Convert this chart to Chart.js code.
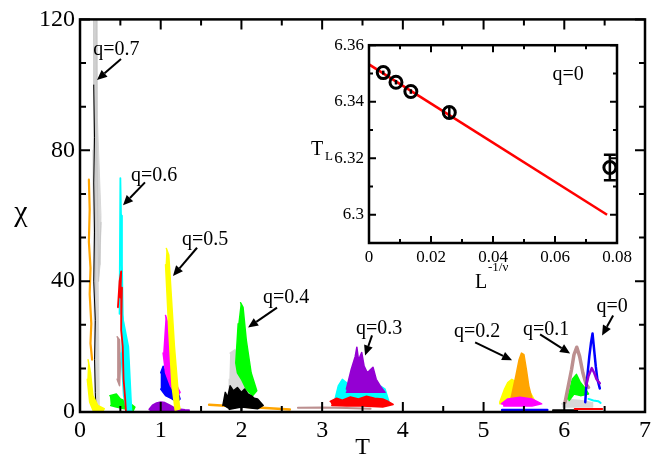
<!DOCTYPE html>
<html><head><meta charset="utf-8">
<script src="https://cdn.jsdelivr.net/npm/chart.js@4.4.1/dist/chart.umd.min.js"></script>
<style>
html,body{margin:0;padding:0;background:#fff;}
#wrap{position:relative;width:662px;height:464px;overflow:hidden;}
#main{position:absolute;left:0;top:0;}
#inset{position:absolute;left:300px;top:30px;}
</style></head><body>
<div id="wrap">
<canvas id="main" width="662" height="464"></canvas>
<canvas id="inset" width="350" height="270"></canvas>
</div>
<script>
// ================= MAIN PLOT DATA (T, chi) =================
// outlines (filled) and strands
// q = 0.7
const q07_gray_T     = [0.165,0.205,0.215,0.26,0.25,0.225,0.24,0.19,0.17,0.16];
const q07_gray_chi   = [125,125,90,60,45,40,0,0,40,80];
const q07_grayS_T    = [0.17,0.18,0.19,0.20,0.21,0.23,0.26];
const q07_grayS_chi  = [125,60,0,125,80,40,58];
const q07_orange_T   = [0.11,0.12,0.11,0.13,0.12,0.14,0.13,0.15];
const q07_orange_chi = [71,62,52,44,36,27,21,16];
const q07_black_T    = [0.17,0.18,0.17,0.18,0.17,0.19,0.18,0.19,0.20];
const q07_black_chi  = [100,84,70,55,40,28,16,6,0];
const q07_yellow_T   = [0.10,0.13,0.16,0.22,0.30,0.28,0.17,0.12,0.09];
const q07_yellow_chi = [16,12,5,2,1,0,0,3,10];
// q = 0.6
const q06_green_T    = [0.37,0.45,0.50,0.60,0.68,0.66,0.55,0.45,0.38];
const q06_green_chi  = [5,5.5,4,3,1.5,0.5,1,1.5,2];
const q06_brown_T    = [0.46,0.49,0.50,0.49,0.46];
const q06_brown_chi  = [23,22,14,8,10];
const q06_cyan_T     = [0.52,0.56,0.60,0.62,0.64,0.58,0.54,0.51];
const q06_cyan_chi   = [30,25,20,10,0,0,5,18];
const q06_cyanS_T    = [0.49,0.50,0.53,0.51,0.52,0.54];
const q06_cyanS_chi  = [30,71.5,30,60,35,25];
const q06_red_T      = [0.47,0.49,0.51,0.50,0.52,0.51,0.53,0.54,0.56,0.57];
const q06_red_chi    = [32,40,43,35,38,25,20,10,4,0];
// q = 0.5
const q05_purple_T    = [0.86,0.90,0.95,1.00,1.05,1.10,1.15,1.20,1.25,1.30,1.35];
const q05_purple_chi  = [0.8,2.0,2.7,3.0,2.8,2.2,1.5,1.0,0.8,0.6,0.5];
const q05_blue_T      = [1.00,1.03,1.06,1.10,1.16,1.22,1.24,1.20,1.14,1.06,1.00];
const q05_blue_chi    = [12,14,12,9,7,5.5,4,3,4,5,7];
const q05_magenta_T   = [1.06,1.09,1.14,1.20,1.24,1.20,1.12,1.06,1.03];
const q05_magenta_chi = [29.5,27,15,8,6,5,8,12,18];
const q05_yellow_T    = [1.07,1.10,1.17,1.23,1.24,1.18,1.14,1.10,1.06];
const q05_yellow_chi  = [50,48,20,2,1,0.5,8,25,45];
// q = 0.4
const q04_orange_T   = [1.60,1.80,2.00,2.20,2.40,2.60];
const q04_orange_chi = [2.2,1.9,1.7,1.4,1.1,0.8];
const q04_gray_T     = [1.86,1.92,1.98,2.06,2.10,1.95,1.85,1.85];
const q04_gray_chi   = [18,19,14,8,4,3,4,10];
const q04_green_T    = [1.99,2.02,2.06,2.12,2.19,2.14,2.06,2.00,1.95,1.93,1.96];
const q04_green_chi  = [33.4,32,22,12,6.5,5,7,10,12,15,27];
const q04_black_T    = [1.77,1.80,1.83,1.86,1.90,1.95,2.00,2.04,2.08,2.12,2.16,2.20,2.27,2.20,2.00,1.85];
const q04_black_chi  = [2,6,4.5,8,6.5,7.5,6,7,5.5,5,4.2,4,2,1,1.5,0.8];
const q04_blackS_T   = [1.99,2.00,2.01];
const q04_blackS_chi = [3,0,3];
// q = 0.3
const q03_brown_T    = [2.70,3.00,3.30,3.60];
const q03_brown_chi  = [1.3,1.4,1.2,1.0];
const q03_cyan_T     = [3.16,3.20,3.25,3.30,3.40,3.60,3.72,3.78,3.83,3.16];
const q03_cyan_chi   = [4,8,10,9,6.5,6.5,8,7,3,3];
const q03_purple_T   = [3.30,3.36,3.41,3.43,3.45,3.47,3.49,3.52,3.56,3.60,3.63,3.67,3.72,3.78,3.30];
const q03_purple_chi = [7,13,17,19.8,16,17,18.2,14,12,13,13.7,10,8,6,6];
const q03_red_T      = [3.10,3.18,3.25,3.35,3.45,3.55,3.65,3.75,3.82,3.88,3.75,3.50,3.30,3.12];
const q03_red_chi    = [3.2,4.2,3.6,4.6,4.0,4.8,4.2,4.0,3.2,2.3,1.5,1.8,1.8,2];
// q = 0.2
const q02_blue_T      = [5.23,5.79];
const q02_blue_chi    = [0.6,0.6];
const q02_yellow_T    = [5.20,5.26,5.30,5.35,5.45,5.55,5.60,5.64,5.20];
const q02_yellow_chi  = [3,7,9,10,8.5,7,5,3,2.5];
const q02_orange_T    = [5.33,5.40,5.44,5.47,5.50,5.53,5.56,5.60,5.50,5.42];
const q02_orange_chi  = [3,11,16,18,17.5,13,8,4,3,3];
const q02_magenta_T   = [5.22,5.30,5.45,5.60,5.72,5.60,5.40,5.25];
const q02_magenta_chi = [2.5,4,4.5,4,2.5,1.8,1.8,1.8];
// q = 0.1
const q01_black_T   = [5.86,6.16];
const q01_black_chi = [0.5,0.5];
const q01_gray_T    = [5.97,6.05,6.20,6.35,6.35,6.10,5.98];
const q01_gray_chi  = [2.5,3.8,3.5,2.8,1.5,1.5,1.5];
const q01_cyan_T    = [6.30,6.36,6.42,6.45];
const q01_cyan_chi  = [4,3.5,3.3,2.8];
const q01_green_T   = [6.04,6.10,6.15,6.20,6.25,6.30,6.20,6.12,6.06];
const q01_green_chi = [4,10,11.5,9,7.5,5.5,5,5.5,3.5];
const q01_brown_T   = [6.01,6.05,6.09,6.12,6.155,6.19,6.23,6.27,6.30];
const q01_brown_chi = [3,8,13,17.5,19.8,17,12,8.5,7.5];
// q = 0
const q0_red_T      = [6.13,6.47];
const q0_red_chi    = [0.9,0.9];
const q0_blue_T     = [6.26,6.27,6.29,6.31,6.33,6.35,6.37,6.39,6.41,6.44];
const q0_blue_chi   = [3,7,12,17,21,24,19,14,10,7.2];
const q0_purple_T   = [6.27,6.30,6.34,6.37,6.40,6.44];
const q0_purple_chi = [8,11,13.4,12,10,8.8];

// ticks
const xTicks = [0,1,2,3,4,5,6,7];
const xTickLabels = ['0','1','2','3','4','5','6','7'];
const xMinor = [0.5,1.5,2.5,3.5,4.5,5.5,6.5];
const yTicks = [0,40,80,120];
const yTickLabels = ['0','40','80','120'];
const yMinor = [13.333,26.667,53.333,66.667,93.333,106.667];

// annotations (label, text position, arrow from -> to), in data units
const annoLabels  = ['q=0.7','q=0.6','q=0.5','q=0.4','q=0.3','q=0.2','q=0.1','q=0'];
const annoTextT   = [0.452,0.917,1.549,2.553,3.705,4.919,5.774,6.592];
const annoTextChi = [110.6,72.3,52.6,35.0,25.5,24.6,25.2,32.2];
const arrFromT    = [0.508,0.805,1.450,2.441,3.618,4.895,5.700,6.605];
const arrFromChi  = [107.9,70.2,50.2,31.9,23.4,21.3,23.7,29.5];
const arrToT      = [0.211,0.533,1.152,2.082,3.532,5.353,6.072,6.468];
const arrToChi    = [101.5,63.2,41.6,25.8,17.3,15.8,17.9,23.4];

// ================= INSET DATA =================
const insetL   = [0.0046,0.0087,0.0135,0.0259,0.0777];
const insetTL  = [6.3503,6.3469,6.3436,6.3362,6.3167];
const insetErr = [0.0007,0.0008,0.0008,0.0019,0.0045];
const fitL  = [0,0.0768];
const fitTL = [6.3532,6.3000];
const insetXTicks = [0,0.02,0.04,0.06,0.08];
const insetXTickLabels = ['0','0.02','0.04','0.06','0.08'];
const insetXMinor = [0.01,0.03,0.05,0.07];
const insetYTicks = [6.30,6.32,6.34,6.36];
const insetYTickLabels = ['6.3','6.32','6.34','6.36'];
const insetYMinor = [6.29,6.31,6.33,6.35];

// ================= STYLES =================
const C = {black:'#000000',red:'#ff0000',green:'#00ff00',blue:'#0000ff',yellow:'#ffff00',
  brown:'#bc8f8f',grey:'#d8d8d8',violet:'#9400d3',cyan:'#00ffff',magenta:'#ff00ff',orange:'#ffa500'};
const FONT = "'Liberation Serif','Times New Roman',serif";

// drawing order: first = bottom. [T, chi, colour, width, fill]
const curves = [
  [q07_gray_T,q07_gray_chi,C.grey,1,'shape'],
  [q07_grayS_T,q07_grayS_chi,'#c8c8c8',1.2],
  [q07_orange_T,q07_orange_chi,C.orange,2.2],
  [q07_black_T,q07_black_chi,C.black,1],
  [q07_yellow_T,q07_yellow_chi,C.yellow,1.5,'shape'],
  [q06_green_T,q06_green_chi,C.green,1.5,'shape'],
  [q06_brown_T,q06_brown_chi,C.brown,1.5,'shape'],
  [q06_cyan_T,q06_cyan_chi,C.cyan,1.5,'shape'],
  [q06_cyanS_T,q06_cyanS_chi,C.cyan,1.8],
  [q06_red_T,q06_red_chi,C.red,1.8],
  [q05_purple_T,q05_purple_chi,C.violet,2,{value:0}],
  [q05_blue_T,q05_blue_chi,C.blue,1.5,'shape'],
  [q05_magenta_T,q05_magenta_chi,C.magenta,1.5,'shape'],
  [q05_yellow_T,q05_yellow_chi,C.yellow,1.5,'shape'],
  [q04_orange_T,q04_orange_chi,C.orange,2.5],
  [q04_gray_T,q04_gray_chi,C.grey,1.5,'shape'],
  [q04_green_T,q04_green_chi,C.green,1.5,'shape'],
  [q04_black_T,q04_black_chi,C.black,1.5,'shape'],
  [q04_blackS_T,q04_blackS_chi,C.black,1.5],
  [q03_brown_T,q03_brown_chi,C.brown,2],
  [q03_cyan_T,q03_cyan_chi,C.cyan,1.5,'shape'],
  [q03_purple_T,q03_purple_chi,C.violet,1.5,'shape'],
  [q03_red_T,q03_red_chi,C.red,1.5,'shape'],
  [q02_blue_T,q02_blue_chi,C.blue,2.5],
  [q02_yellow_T,q02_yellow_chi,C.yellow,1.5,'shape'],
  [q02_orange_T,q02_orange_chi,C.orange,1.5,'shape'],
  [q02_magenta_T,q02_magenta_chi,C.magenta,1.5,'shape'],
  [q01_black_T,q01_black_chi,C.black,2],
  [q01_gray_T,q01_gray_chi,C.grey,1.5,'shape'],
  [q0_red_T,q0_red_chi,C.red,2],
  [q01_cyan_T,q01_cyan_chi,C.cyan,2],
  [q01_green_T,q01_green_chi,C.green,1.5,'shape'],
  [q01_brown_T,q01_brown_chi,C.brown,3.5],
  [q0_blue_T,q0_blue_chi,C.blue,2.5],
  [q0_purple_T,q0_purple_chi,C.violet,2.5]
];
const datasets = curves.map(([T,chi,color,w,fv]) => ({
  data: T.map((t,i)=>({x:t,y:chi[i]})),
  showLine:true, borderColor:color, backgroundColor:color, borderWidth:w,
  pointRadius:0, pointHoverRadius:0, tension:0,
  fill: fv===undefined ? false : fv,
  borderJoinStyle:'round', borderCapStyle:'round'
})).reverse();

function drawArrow(ctx,x1,y1,x2,y2,head,half){
  const a = Math.atan2(y2-y1,x2-x1);
  const bx = x2-head*Math.cos(a), by = y2-head*Math.sin(a);
  ctx.beginPath(); ctx.moveTo(x1,y1); ctx.lineTo(bx,by); ctx.stroke();
  ctx.beginPath(); ctx.moveTo(x2,y2);
  ctx.lineTo(bx+half*Math.sin(a), by-half*Math.cos(a));
  ctx.lineTo(bx-half*Math.sin(a), by+half*Math.cos(a));
  ctx.closePath(); ctx.fill();
}
function drawFrameTicks(chart, majX, minX, majY, minY, frameW, tickW, majLen, minLen){
  const {ctx, chartArea:a, scales:{x,y}} = chart;
  ctx.save();
  ctx.strokeStyle='#000'; ctx.lineWidth=tickW; ctx.beginPath();
  const vx=(vals,len)=>vals.forEach(v=>{const p=x.getPixelForValue(v);
    ctx.moveTo(p,a.bottom);ctx.lineTo(p,a.bottom-len);ctx.moveTo(p,a.top);ctx.lineTo(p,a.top+len);});
  const vy=(vals,len)=>vals.forEach(v=>{const p=y.getPixelForValue(v);
    ctx.moveTo(a.left,p);ctx.lineTo(a.left+len,p);ctx.moveTo(a.right,p);ctx.lineTo(a.right-len,p);});
  vx(majX,majLen); vx(minX,minLen); vy(majY,majLen); vy(minY,minLen);
  ctx.stroke();
  ctx.lineWidth=frameW;
  ctx.strokeRect(a.left,a.top,a.right-a.left,a.bottom-a.top);
  ctx.restore();
}

const mainDecor = {
  id:'mainDecor',
  afterDraw(chart){
    const {ctx, scales:{x,y}} = chart;
    drawFrameTicks(chart,xTicks,xMinor,yTicks,yMinor,2.5,2,10,6);
    ctx.save();
    ctx.fillStyle='#000'; ctx.strokeStyle='#000';
    ctx.textAlign='center'; ctx.textBaseline='middle';
    ctx.font='30px '+FONT; ctx.fillText('\u03c7',21,213);
    ctx.font='24px '+FONT; ctx.fillText('T',(chart.chartArea.left+chart.chartArea.right)/2,448);
    ctx.font='20px '+FONT;
    annoLabels.forEach((s,i)=>{
      ctx.fillText(s, x.getPixelForValue(annoTextT[i]), y.getPixelForValue(annoTextChi[i]));
      ctx.lineWidth=2;
      drawArrow(ctx, x.getPixelForValue(arrFromT[i]), y.getPixelForValue(arrFromChi[i]),
        x.getPixelForValue(arrToT[i]), y.getPixelForValue(arrToChi[i]), 10, 4.5);
    });
    ctx.restore();
  }
};

new Chart(document.getElementById('main'), {
  type:'scatter',
  data:{datasets},
  options:{
    responsive:false, animation:false, events:[],
    plugins:{legend:{display:false}, tooltip:{enabled:false}},
    layout:{padding:{left:0,right:17,top:17,bottom:0}},
    scales:{
      x:{type:'linear',min:0,max:7,
        afterFit:s=>{s.height=52;},
        afterBuildTicks:s=>{s.ticks=xTicks.map(v=>({value:v}));},
        ticks:{callback:(v,i)=>xTickLabels[i],font:{family:FONT,size:24},color:'#000',padding:4,maxRotation:0,autoSkip:false},
        grid:{display:false,drawTicks:false}, border:{display:false}},
      y:{type:'linear',min:0,max:120,
        afterFit:s=>{s.width=80;},
        afterBuildTicks:s=>{s.ticks=yTicks.map(v=>({value:v}));},
        ticks:{callback:(v,i)=>yTickLabels[i],font:{family:FONT,size:24},color:'#000',padding:5,autoSkip:false},
        grid:{display:false,drawTicks:false}, border:{display:false}}
    }
  },
  plugins:[mainDecor]
});

// ================= INSET =================
const PT_R = 6;
const insetDecor = {
  id:'insetDecor',
  afterDatasetsDraw(chart){
    const {ctx, scales:{x,y}} = chart;
    ctx.save(); ctx.strokeStyle='#000'; ctx.lineWidth=2.5;
    insetL.forEach((l,i)=>{
      const px=x.getPixelForValue(l), p1=y.getPixelForValue(insetTL[i]-insetErr[i]), p2=y.getPixelForValue(insetTL[i]+insetErr[i]);
      ctx.beginPath(); ctx.moveTo(px,p1); ctx.lineTo(px,p2);
      if (Math.abs(p1-p2)/2 > PT_R) { ctx.moveTo(px-6,p1); ctx.lineTo(px+6,p1); ctx.moveTo(px-6,p2); ctx.lineTo(px+6,p2); }
      ctx.stroke();
    });
    ctx.restore();
  },
  afterDraw(chart){
    const {ctx, scales:{x,y}} = chart;
    drawFrameTicks(chart,insetXTicks,insetXMinor,insetYTicks,insetYMinor,2.5,2,7,4);
    ctx.save(); ctx.fillStyle='#000'; ctx.textAlign='center'; ctx.textBaseline='middle';
    ctx.font='20px '+FONT; ctx.fillText('q=0', x.getPixelForValue(0.0642), y.getPixelForValue(6.3495));
    ctx.font='20px '+FONT; ctx.fillText('T',17,120);
    ctx.font='13px '+FONT; ctx.fillText('L',29,127);
    ctx.font='20px '+FONT; ctx.fillText('L',181,253);
    ctx.font='13px '+FONT; ctx.textAlign='left'; ctx.fillText('-1/\u03bd',188,238);
    ctx.restore();
  }
};
new Chart(document.getElementById('inset'), {
  type:'scatter',
  data:{datasets:[
    {data:insetL.map((l,i)=>({x:l,y:insetTL[i]})), showLine:false, pointRadius:PT_R, pointHoverRadius:PT_R,
     pointBorderWidth:3, pointBorderColor:'#000', pointBackgroundColor:'rgba(0,0,0,0)'},
    {data:fitL.map((l,i)=>({x:l,y:fitTL[i]})), showLine:true, borderColor:'#ff0000', borderWidth:2.5, pointRadius:0}
  ]},
  options:{
    responsive:false, animation:false, events:[],
    plugins:{legend:{display:false}, tooltip:{enabled:false}},
    layout:{padding:{left:0,right:33,top:15,bottom:0}},
    scales:{
      x:{type:'linear',min:0,max:0.08,
        afterFit:s=>{s.height=57;},
        afterBuildTicks:s=>{s.ticks=insetXTicks.map(v=>({value:v}));},
        ticks:{callback:(v,i)=>insetXTickLabels[i],font:{family:FONT,size:17},color:'#000',padding:4,maxRotation:0,autoSkip:false},
        grid:{display:false,drawTicks:false}, border:{display:false}},
      y:{type:'linear',min:6.29,max:6.36,
        afterFit:s=>{s.width=69;},
        afterBuildTicks:s=>{s.ticks=insetYTicks.map(v=>({value:v}));},
        ticks:{callback:(v,i)=>insetYTickLabels[i],font:{family:FONT,size:17},color:'#000',padding:5,autoSkip:false},
        grid:{display:false,drawTicks:false}, border:{display:false}}
    }
  },
  plugins:[insetDecor]
});
</script>
</body></html>
